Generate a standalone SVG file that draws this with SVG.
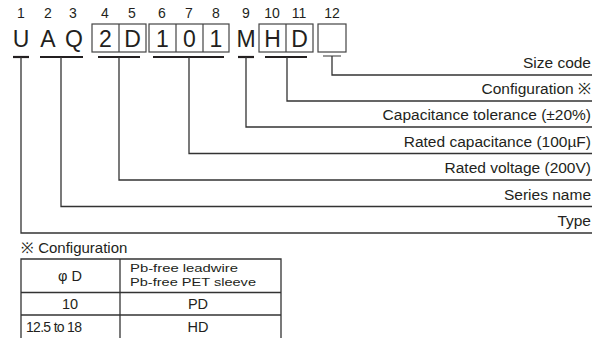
<svg xmlns="http://www.w3.org/2000/svg" width="608" height="338" viewBox="0 0 608 338">
<style>
text{font-family:"Liberation Sans",Arial,sans-serif;fill:#231f20}
.num{font-size:14px;text-anchor:middle}
.big{font-size:23px;text-anchor:middle}
.lbl{font-size:15.5px;text-anchor:end}
.box{fill:none;stroke:#444;stroke-width:1.2}
.ul{stroke:#231f20;stroke-width:2.2}
.con{fill:none;stroke:#333;stroke-width:1.3}
.tb{fill:none;stroke:#333;stroke-width:1.3}
.tt{font-size:14.5px;text-anchor:middle}
.hd{font-size:11.5px}
</style>
<rect width="608" height="338" fill="#fff"/>
<g id="positions">
<text class="num" x="21" y="18">1</text>
<text class="num" x="48" y="18">2</text>
<text class="num" x="73" y="18">3</text>
<text class="num" x="105" y="18">4</text>
<text class="num" x="132" y="18">5</text>
<text class="num" x="162" y="18">6</text>
<text class="num" x="189" y="18">7</text>
<text class="num" x="216" y="18">8</text>
<text class="num" x="246" y="18">9</text>
<text class="num" x="272" y="18">10</text>
<text class="num" x="299" y="18">11</text>
<text class="num" x="332" y="18">12</text>
</g>
<g id="code">
<rect class="box" x="92" y="24" width="54" height="28"/>
<line class="box" x1="119" y1="24" x2="119" y2="52"/>
<rect class="box" x="149" y="24" width="80" height="28"/>
<line class="box" x1="176" y1="24" x2="176" y2="52"/>
<line class="box" x1="203" y1="24" x2="203" y2="52"/>
<rect class="box" x="259" y="24" width="54" height="28"/>
<line class="box" x1="286" y1="24" x2="286" y2="52"/>
<rect class="box" x="318" y="24" width="28" height="28"/>
<text class="big" x="21" y="47">U</text>
<text class="big" x="48" y="47">A</text>
<text class="big" x="74" y="47">Q</text>
<text class="big" x="105.5" y="47">2</text>
<text class="big" x="132.5" y="47">D</text>
<text class="big" x="162.5" y="47">1</text>
<text class="big" x="189.5" y="47">0</text>
<text class="big" x="216" y="47">1</text>
<text class="big" x="246" y="47">M</text>
<text class="big" x="272.5" y="47">H</text>
<text class="big" x="299.5" y="47">D</text>
</g>
<g id="underlines">
<line class="ul" x1="13" y1="57" x2="29" y2="57"/>
<line class="ul" x1="40" y1="57" x2="83" y2="57"/>
<line class="ul" x1="98" y1="57" x2="140" y2="57"/>
<line class="ul" x1="153" y1="57" x2="224" y2="57"/>
<line class="ul" x1="238" y1="57" x2="254" y2="57"/>
<line class="ul" x1="265" y1="57" x2="307" y2="57"/>
<line x1="323" y1="56" x2="341" y2="56" stroke="#777" stroke-width="1.5"/>
</g>
<g id="connectors">
<polyline class="con" stroke="#666" points="332,56 332,75 592,75"/>
<polyline class="con" points="287,57 287,101 592,101"/>
<polyline class="con" points="246,57 246,127 592,127"/>
<polyline class="con" points="189,57 189,153.5 592,153.5"/>
<polyline class="con" points="119,57 119,180 592,180"/>
<polyline class="con" points="61,57 61,206.5 592,206.5"/>
<polyline class="con" points="21,57 21,233 592,233"/>
</g>
<g id="labels">
<text class="lbl" x="591" y="68">Size code</text>
<text class="lbl" x="591" y="94">Configuration ※</text>
<text class="lbl" x="591" y="120">Capacitance tolerance (±20%)</text>
<text class="lbl" x="591" y="146.5">Rated capacitance (100µF)</text>
<text class="lbl" x="591" y="173">Rated voltage (200V)</text>
<text class="lbl" x="591" y="199.5">Series name</text>
<text class="lbl" x="591" y="226">Type</text>
</g>
<g id="config-table">
<text x="21" y="253" style="font-size:15px">※ Configuration</text>
<polyline class="tb" points="21,338 21,259 281,259 281,338"/>
<line class="tb" x1="120" y1="259" x2="120" y2="338"/>
<line class="tb" x1="21" y1="292.5" x2="281" y2="292.5"/>
<line class="tb" x1="21" y1="315" x2="281" y2="315"/>
<text class="tt" x="70" y="281">φ D</text>
<text class="hd" x="130" y="272" textLength="108" lengthAdjust="spacingAndGlyphs">Pb-free leadwire</text>
<text class="hd" x="130" y="285.5" textLength="126" lengthAdjust="spacingAndGlyphs">Pb-free PET sleeve</text>
<text class="tt" x="70" y="309">10</text>
<text class="tt" x="198" y="309">PD</text>
<text x="26" y="332" style="font-size:14px;letter-spacing:-0.7px">12.5 to 18</text>
<text class="tt" x="198" y="332">HD</text>
</g>
</svg>
